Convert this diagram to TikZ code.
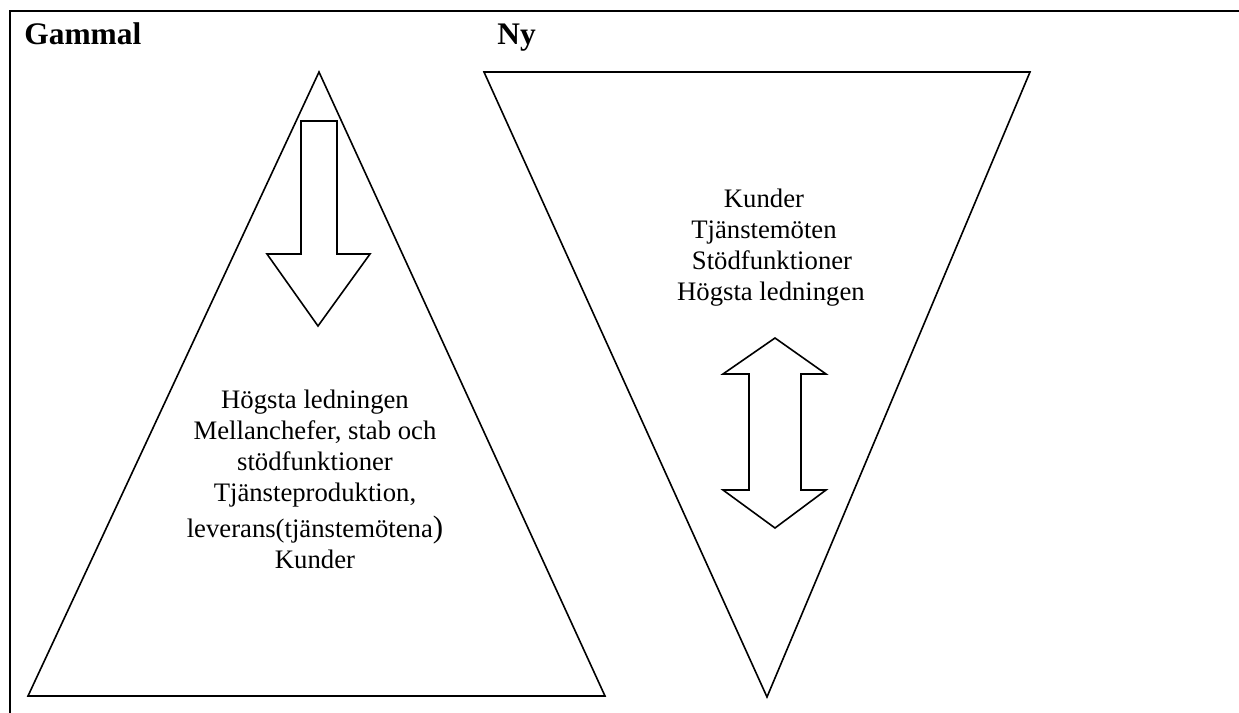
\documentclass[tikz,border=0pt]{standalone}
\usepackage{fontspec}
\setmainfont{Liberation Serif}
\usetikzlibrary{positioning}

\begin{document}
\begin{tikzpicture}[
    x=0.5pt, y=-0.5pt,
    frameline/.style={line width=1.2pt},
    outline/.style={draw, thick, line join=miter},
    bigarrow/.style={draw, thick, line join=miter, fill=white},
    heading/.style={font=\fontsize{15.7}{18}\selectfont\bfseries, inner sep=0pt, anchor=base west},
    levels/.style={font=\fontsize{13.35}{15.35}\selectfont, align=center, inner sep=0pt, anchor=north}
]
\useasboundingbox (0,0) rectangle (1239,713);

% Frame
\draw [frameline] (10,713) -- (10,11) -- (1239,11);

% Headings
\node (gammal) [heading] at (24,44) {Gammal};
\node (ny) [heading] at (497,44) {Ny};

% Triangles
\coordinate (oldtop) at (319,72);
\coordinate (oldleft) at (28,696);
\coordinate (oldright) at (605,696);
\draw [outline] (oldtop) -- (oldleft) -- (oldright) -- cycle;

\coordinate (newleft) at (484,72);
\coordinate (newright) at (1030,72);
\coordinate (newbottom) at (767,697);
\draw [outline] (newleft) -- (newright) -- (newbottom) -- cycle;

% Arrows
\draw [bigarrow] (301,121) -- (337,121) -- (337,254) -- (370,254) -- (318,326)
    -- (267,254) -- (301,254) -- cycle;
\draw [bigarrow] (775,338) -- (826,374) -- (801,374) -- (801,490) -- (826,490)
    -- (775,528) -- (723,490) -- (749,490) -- (749,374) -- (723,374) -- cycle;

% Labels
\node (oldlevels) [levels] at (315,390) {Högsta ledningen\\Mellanchefer, stab och\\stödfunktioner\\Tjänsteproduktion,\\[3pt]leverans(tjänstemötena{\fontsize{15.5}{15.35}\selectfont)}\\Kunder};
\node (newlevels) [levels] at (764,189) {Kunder\\Tjänstemöten\\\hspace{8pt}Stödfunktioner\\\hspace{7pt}Högsta ledningen};

\end{tikzpicture}
\end{document}
